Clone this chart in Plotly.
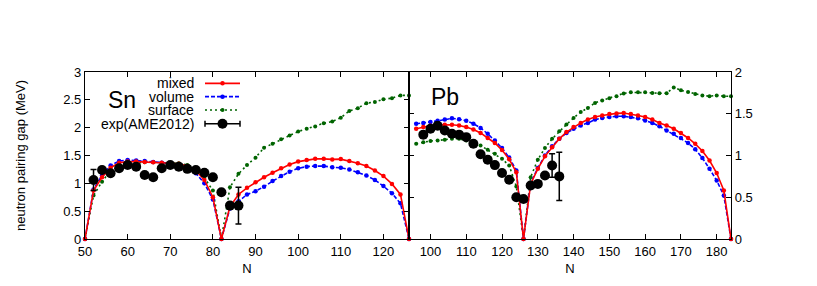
import plotly.graph_objects as go

# ---------------- data ----------------
sn_n = [50, 52, 54, 56, 58, 60, 62, 64, 66, 68, 70, 72, 74, 76, 78, 80, 82, 84, 86, 88,
        90, 92, 94, 96, 98, 100, 102, 104, 106, 108, 110, 112, 114, 116, 118, 120, 122, 124, 126]
sn_mixed = [0, 0.87, 1.11, 1.28, 1.37, 1.39, 1.39, 1.385, 1.38, 1.37, 1.36, 1.35, 1.31, 1.23, 1.06, 0.75, 0,
            0.58, 0.80, 0.92, 1.02, 1.11, 1.19, 1.27, 1.34, 1.39, 1.42, 1.44, 1.44, 1.43, 1.435, 1.40,
            1.36, 1.31, 1.23, 1.13, 0.99, 0.80, 0]
sn_volume = [0, 0.89, 1.14, 1.32, 1.40, 1.42, 1.41, 1.40, 1.385, 1.37, 1.36, 1.34, 1.29, 1.18, 1.00, 0.71, 0,
             0.55, 0.68, 0.80, 0.86, 0.94, 1.04, 1.13, 1.21, 1.27, 1.30, 1.31, 1.31, 1.29, 1.28, 1.25,
             1.20, 1.14, 1.06, 0.95, 0.82, 0.64, 0]
sn_surface = [0, 0.78, 1.03, 1.23, 1.33, 1.36, 1.37, 1.38, 1.38, 1.37, 1.37, 1.36, 1.33, 1.28, 1.10, 0.87, 0,
              0.93, 1.17, 1.33, 1.46, 1.64, 1.71, 1.79, 1.86, 1.93, 1.98, 2.02, 2.08, 2.11, 2.18, 2.30,
              2.35, 2.44, 2.46, 2.51, 2.53, 2.58, 2.58]
sn_exp_n = [52, 54, 56, 58, 60, 62, 64, 66, 68, 70, 72, 74, 76, 78, 80, 82, 84, 86]
sn_exp = [1.06, 1.24, 1.18, 1.27, 1.33, 1.30, 1.15, 1.11, 1.27, 1.33, 1.30, 1.26, 1.24, 1.19, 1.11, 0.84, 0.60, 0.60]
sn_exp_err = [0.19, 0, 0, 0, 0, 0, 0, 0, 0, 0, 0, 0, 0, 0, 0, 0, 0, 0.33]

pb_n = [96, 98, 100, 102, 104, 106, 108, 110, 112, 114, 116, 118, 120, 122, 124, 126, 128, 130, 132,
        134, 136, 138, 140, 142, 144, 146, 148, 150, 152, 154, 156, 158, 160, 162, 164, 166, 168, 170,
        172, 174, 176, 178, 180, 182, 184]
pb_mixed = [1.32, 1.34, 1.357, 1.365, 1.368, 1.368, 1.36, 1.34, 1.31, 1.27, 1.21, 1.15, 1.065, 0.955, 0.80, 0,
            0.66, 0.84, 0.99, 1.10, 1.20, 1.28, 1.34, 1.39, 1.43, 1.46, 1.48, 1.496, 1.504, 1.508, 1.496,
            1.48, 1.46, 1.43, 1.39, 1.36, 1.32, 1.27, 1.21, 1.14, 1.055, 0.94, 0.79, 0.58, 0]
pb_volume = [1.38, 1.39, 1.40, 1.415, 1.43, 1.445, 1.435, 1.416, 1.38, 1.33, 1.26, 1.18, 1.09, 0.975, 0.82, 0,
             0.67, 0.85, 1.00, 1.11, 1.20, 1.27, 1.32, 1.36, 1.39, 1.43, 1.45, 1.46, 1.47, 1.47, 1.46,
             1.445, 1.42, 1.39, 1.35, 1.30, 1.26, 1.21, 1.15, 1.075, 0.97, 0.84, 0.70, 0.52, 0]
pb_surface = [1.14, 1.16, 1.175, 1.18, 1.19, 1.20, 1.20, 1.18, 1.16, 1.12, 1.07, 1.02, 0.96, 0.88, 0.63, 0,
              0.74, 0.95, 1.09, 1.20, 1.29, 1.37, 1.45, 1.52, 1.57, 1.63, 1.66, 1.685, 1.71, 1.744, 1.756,
              1.756, 1.756, 1.75, 1.745, 1.745, 1.815, 1.78, 1.76, 1.736, 1.72, 1.71, 1.72, 1.71, 1.71]
pb_exp_n = [98, 100, 102, 104, 106, 108, 110, 112, 114, 116, 118, 120, 122, 124, 126, 128, 130, 132, 134, 136]
pb_exp = [1.25, 1.32, 1.357, 1.30, 1.26, 1.25, 1.22, 1.14, 1.015, 0.95, 0.885, 0.79, 0.71, 0.50, 0.48,
          0.64, 0.66, 0.76, 0.88, 0.75]
pb_exp_err = [0, 0, 0, 0, 0, 0, 0, 0, 0, 0, 0, 0, 0, 0, 0, 0, 0, 0, 0.14, 0.29]

series_names = ["mixed", "volume", "surface", "exp(AME2012)"]
x_ticks_sn = [50, 60, 70, 80, 90, 100, 110, 120]
x_ticks_pb = [100, 110, 120, 130, 140, 150, 160, 170, 180]

# ---------------- styles ----------------
RED = "#ff0000"
BLUE = "#0000ff"
GREEN = "#006400"
FONT = "Liberation Sans, Arial, Helvetica, sans-serif"

W, H = 817, 286
ML, MR, MT, MB = 85, 86, 71.5, 45
PW, PH = W - ML - MR, H - MT - MB
SPLIT = (409 - ML) / PW

fig = go.Figure()


def theory(x, y, color, dash, msize, xa, ya, name):
    fig.add_trace(go.Scatter(
        x=x, y=y, mode="lines+markers", name=name, xaxis=xa, yaxis=ya,
        line=dict(color=color, width=1.6, dash=dash),
        marker=dict(color=color, size=msize), cliponaxis=False, showlegend=False))


def exper(x, y, err, xa, ya, name):
    fig.add_trace(go.Scatter(
        x=x, y=y, mode="markers", name=name, xaxis=xa, yaxis=ya,
        marker=dict(color="black", size=10),
        error_y=dict(type="data", array=err, color="black", thickness=1.5, width=3),
        cliponaxis=False, showlegend=False))


theory(sn_n, sn_surface, GREEN, "2px,3px", 4, "x", "y", series_names[2])
theory(sn_n, sn_volume, BLUE, "4px,2px", 4.5, "x", "y", series_names[1])
theory(sn_n, sn_mixed, RED, "solid", 4.5, "x", "y", series_names[0])
exper(sn_exp_n, sn_exp, sn_exp_err, "x", "y", series_names[3])

theory(pb_n, pb_surface, GREEN, "2px,3px", 4, "x2", "y2", series_names[2])
theory(pb_n, pb_volume, BLUE, "4px,2px", 4.5, "x2", "y2", series_names[1])
theory(pb_n, pb_mixed, RED, "solid", 4.5, "x2", "y2", series_names[0])
exper(pb_exp_n, pb_exp, pb_exp_err, "x2", "y2", series_names[3])

axis_common = dict(showline=True, linecolor="black", linewidth=1.3, mirror="allticks",
                   ticks="inside", ticklen=5, tickwidth=1, tickcolor="black",
                   showgrid=False, zeroline=False,
                   tickfont=dict(family=FONT, size=13, color="black"))

fig.update_layout(
    width=W, height=H,
    margin=dict(l=ML, r=MR, t=MT, b=MB),
    paper_bgcolor="white", plot_bgcolor="white",
    font=dict(family=FONT, size=13, color="black"),
    xaxis=dict(domain=[0, SPLIT], range=[50, 126], tickvals=x_ticks_sn,
               title=dict(text="N", standoff=6, font=dict(size=13)), anchor="y", **axis_common),
    yaxis=dict(range=[0, 3], dtick=0.5, anchor="x",
               title=dict(text="neutron pairing gap (MeV)", standoff=34, font=dict(size=13)),
               **axis_common),
    xaxis2=dict(domain=[SPLIT, 1], range=[94, 184], tickvals=x_ticks_pb,
                title=dict(text="N", standoff=6, font=dict(size=13)), anchor="y2", **axis_common),
    yaxis2=dict(range=[0, 2], dtick=0.5, anchor="x2", side="right", **axis_common),
)


def px(xp):
    return (xp - ML) / PW


def py(yp):
    return (MT + PH - yp) / PH


# panel labels
fig.add_annotation(x=px(122), y=py(100), xref="paper", yref="paper", text="Sn", showarrow=False,
                   xanchor="center", yanchor="middle",
                   font=dict(family=FONT, size=23, color="black"))
fig.add_annotation(x=px(444.5), y=py(97), xref="paper", yref="paper", text="Pb", showarrow=False,
                   xanchor="center", yanchor="middle",
                   font=dict(family=FONT, size=23, color="black"))

# legend (key) inside Sn panel
rows = [83, 96.5, 110, 124]
styles = [(RED, "solid", 4.5), (BLUE, "4px,2px", 4.5), (GREEN, "2px,3px", 4), ("black", "solid", 10)]
for name, yrow, (col, dash, ms) in zip(series_names, rows, styles):
    fig.add_annotation(x=px(196), y=py(yrow), xref="paper", yref="paper", text=name, showarrow=False,
                       xanchor="right", yanchor="middle", font=dict(family=FONT, size=14, color="black"))
    fig.add_shape(type="line", xref="paper", yref="paper", x0=px(205), x1=px(240), y0=py(yrow), y1=py(yrow),
                  line=dict(color=col, width=1.6, dash=dash))
    fig.add_shape(type="circle", xref="paper", yref="paper", xsizemode="pixel", ysizemode="pixel",
                  xanchor=px(222.5), yanchor=py(yrow), x0=-ms / 2, x1=ms / 2, y0=-ms / 2, y1=ms / 2,
                  fillcolor=col, line=dict(width=0))
    if col == "black":
        for xe in (205, 240):
            fig.add_shape(type="line", xref="paper", yref="paper", x0=px(xe), x1=px(xe),
                          y0=py(yrow - 3), y1=py(yrow + 3), line=dict(color="black", width=1.5))

fig.write_html("out.html", config={"displayModeBar": False},
               post_script="document.body.style.margin='0px';")
